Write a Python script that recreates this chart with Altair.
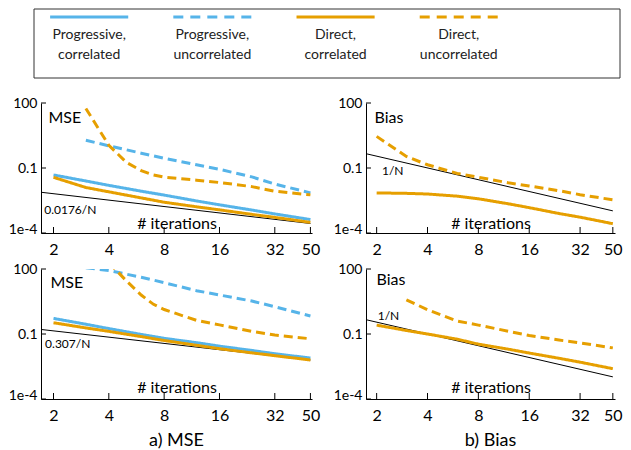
import altair as alt
import pandas as pd

FONT = "Lato"
BLUE = "#56B4E9"
ORANGE = "#E69F00"

series_names = ["Progressive, correlated", "Progressive, uncorrelated",
                "Direct, correlated", "Direct, uncorrelated"]
legend_labels = ["Progressive,\ncorrelated", "Progressive,\nuncorrelated",
                 "Direct,\ncorrelated", "Direct,\nuncorrelated"]
legend_dashed = [0, 1, 0, 1]

x_ticks = [2, 4, 8, 16, 32, 50]
y_ticks = [1e-4, 0.1, 100]

N_full = [2, 3, 4, 6, 8, 12, 16, 24, 32, 50]
N_from3 = [3, 4, 6, 8, 12, 16, 24, 32, 50]
N_du1 = [3, 4, 5, 6, 7, 8, 12, 16, 24, 32, 50]
N_du2 = [4, 5, 6, 7, 8, 12, 16, 24, 32, 50]

# a) MSE, top row
mse1_prog_corr = [0.0479, 0.0251, 0.0158, 0.00851, 0.00562, 0.00302, 0.00200, 0.00115, 0.000759, 0.000417]
mse1_prog_uncorr = [1.91, 1.05, 0.484, 0.282, 0.14, 0.0871, 0.0389, 0.0182, 0.00708]
mse1_direct_corr = [0.0372, 0.0126, 0.00794, 0.00417, 0.00263, 0.00162, 0.00117, 0.000724, 0.000525, 0.000309]
mse1_direct_uncorr = [56.2, 1.12, 0.178, 0.0759, 0.0479, 0.0380, 0.0275, 0.0214, 0.0138, 0.00851, 0.00575]
mse1_ref_N = [1.71, 50]
mse1_ref = [0.00759, 0.000275]

# b) Bias, top row
bias1_direct_corr = [0.00708, 0.00676, 0.00631, 0.00501, 0.00380, 0.00224, 0.00148, 0.000794, 0.000537, 0.000269]
bias1_direct_uncorr = [2.88, 0.339, 0.141, 0.0562, 0.0372, 0.0209, 0.0148, 0.00891, 0.00589, 0.00339]
bias_ref_N = [1.73, 50]
bias_ref = [0.457, 0.00105]

# a) MSE, bottom row
mse2_prog_corr = [0.525, 0.282, 0.178, 0.0955, 0.0631, 0.0398, 0.0275, 0.0174, 0.0123, 0.00776]
mse2_prog_uncorr = [115, 85.1, 41.7, 23.4, 10.0, 6.31, 3.31, 1.82, 0.676]
mse2_direct_corr = [0.331, 0.191, 0.132, 0.0759, 0.0501, 0.0302, 0.0209, 0.0135, 0.0100, 0.00631]
mse2_direct_uncorr = [200, 27.5, 6.31, 2.34, 1.35, 0.427, 0.263, 0.132, 0.0891, 0.0603]
mse2_ref_N = [1.71, 50]
mse2_ref = [0.162, 0.00631]

# b) Bias, bottom row
bias2_direct_corr = [0.257, 0.145, 0.100, 0.0575, 0.0339, 0.0200, 0.0132, 0.00759, 0.00501, 0.00251]
bias2_direct_uncorr = [3.80, 1.32, 0.398, 0.257, 0.135, 0.0851, 0.0525, 0.0389, 0.0229]

# reference-line labels: (text, N, value)
mse1_label = ("0.0176/N", 1.78, 0.00115)
mse2_label = ("0.307/N", 1.80, 0.0347)
bias1_label = ("1/N", 2.15, 0.0708)
bias2_label = ("1/N", 2.03, 0.66)

H = 130
color_scale = alt.Scale(domain=series_names, range=[BLUE, BLUE, ORANGE, ORANGE])
dash_scale = alt.Scale(domain=series_names, range=[[1, 0], [9, 5], [1, 0], [9, 5]])


def make_layers(lines, ref_N, ref_vals, label, xdom, ytitle, ytx, yty, xty):
    rows = []
    for name, ns, vals in lines:
        for n, v in zip(ns, vals):
            rows.append({"N": n, "value": v, "series": name})
    df = pd.DataFrame(rows)
    ref_df = pd.DataFrame({"N": ref_N, "value": ref_vals})
    lab_df = pd.DataFrame({"N": [label[1]], "value": [label[2]], "label": [label[0]]})
    xt_df = pd.DataFrame({"N": x_ticks})
    yt_df = pd.DataFrame({"value": y_ticks})

    xs = alt.Scale(type="log", domain=xdom, nice=False, zero=False)
    ys = alt.Scale(type="log", domain=[1e-4, 100], nice=False, zero=False)

    x_axis = alt.Axis(values=x_ticks, format="d", ticks=False, grid=False,
                      labelFontSize=16, labelPadding=8, labelFlush=False, labelOverlap=False,
                      title="# iterations", titleY=xty, titleBaseline="alphabetic",
                      titleFontSize=16, titleFontWeight="normal")
    y_axis = alt.Axis(values=y_ticks, ticks=False, grid=False,
                      labelExpr="datum.value < 0.001 ? '1e-4' : (datum.value < 1 ? '0.1' : '100')",
                      labelFontSize=14, labelPadding=4, labelOverlap=False, labelFlush=False,
                      labelBaseline={"condition": {"test": "datum.value < 0.001", "value": "alphabetic"},
                                     "value": "middle"},
                      title=ytitle, titleAngle=0, titleX=ytx, titleY=yty, titleAlign="left",
                      titleBaseline="middle", titleFontSize=16, titleFontWeight="normal")
    y_enc = alt.Y("value:Q", scale=ys, axis=y_axis)

    ref = alt.Chart(ref_df).mark_line(color="black", strokeWidth=1, clip=True).encode(
        x=alt.X("N:Q", scale=xs, axis=x_axis), y=y_enc)
    lines_c = alt.Chart(df).mark_line(strokeWidth=3, clip=True).encode(
        x=alt.X("N:Q", scale=xs, axis=None),
        y=y_enc,
        color=alt.Color("series:N", scale=color_scale, legend=None),
        strokeDash=alt.StrokeDash("series:N", scale=dash_scale, legend=None),
        detail="series:N",
    )
    lab = alt.Chart(lab_df).mark_text(align="left", baseline="middle", fontSize=12, font=FONT,
                                      color="black").encode(
        x=alt.X("N:Q", scale=xs, axis=None), y=y_enc, text="label:N")
    xt = alt.Chart(xt_df).mark_rule(color="black", strokeWidth=1).encode(
        x=alt.X("N:Q", scale=xs, axis=None), y=alt.value(H - 6), y2=alt.value(H))
    yt = alt.Chart(yt_df).mark_rule(color="black", strokeWidth=1).encode(
        y=y_enc, x=alt.value(0), x2=alt.value(5))
    return [ref, lines_c, lab, xt, yt]


def finish(layers, width, title=None):
    ch = alt.layer(*layers).properties(width=width, height=H).resolve_scale(x="independent")
    if title:
        ch = ch.properties(title=alt.TitleParams(title, orient="bottom", fontSize=18, font=FONT,
                                                 fontWeight="normal", offset=9, anchor="middle"))
    return ch


LW, RW = 271, 249
LDOM, RDOM = [1.71, 51], [1.73, 51.5]

# legend (drawn above the top-left panel, with its own x scale)
leg_df = pd.DataFrame({"series": series_names, "idx": [0, 1, 2, 3], "label": legend_labels,
                       "dashed": legend_dashed})
leg_xs = alt.Scale(domain=[-0.391, -0.391 + LW / 123.2], nice=False, zero=False)
LEG_TOP = -94
leg_solid = alt.Chart(leg_df).transform_filter("datum.dashed == 0").transform_calculate(
    lo="datum.idx - 0.317", hi="datum.idx + 0.317"
).mark_rule(strokeWidth=3).encode(
    x=alt.X("lo:Q", scale=leg_xs, axis=None), x2="hi:Q", y=alt.value(LEG_TOP + 8),
    color=alt.Color("series:N", scale=color_scale, legend=None))
leg_dash = alt.Chart(leg_df).transform_filter("datum.dashed == 1").transform_calculate(
    lo="datum.idx - 0.317", hi="datum.idx + 0.317"
).mark_rule(strokeWidth=3, strokeDash=[10, 7]).encode(
    x=alt.X("lo:Q", scale=leg_xs, axis=None), x2="hi:Q", y=alt.value(LEG_TOP + 8),
    color=alt.Color("series:N", scale=color_scale, legend=None))
leg_text = alt.Chart(leg_df).mark_text(lineBreak="\n", fontSize=14, lineHeight=20, baseline="top",
                                       align="center", font=FONT, color="#222").encode(
    x=alt.X("idx:Q", scale=leg_xs, axis=None), y=alt.value(LEG_TOP + 19), text="label:N")
box_df = pd.DataFrame({"k": [0]})
leg_box = alt.Chart(box_df).mark_rect(fill="white", fillOpacity=0, stroke="#333", strokeWidth=1).encode(
    x=alt.value(-7), x2=alt.value(579), y=alt.value(LEG_TOP), y2=alt.value(LEG_TOP + 69))

tl_layers = make_layers([("Progressive, uncorrelated", N_from3, mse1_prog_uncorr),
                         ("Direct, uncorrelated", N_du1, mse1_direct_uncorr),
                         ("Progressive, correlated", N_full, mse1_prog_corr),
                         ("Direct, correlated", N_full, mse1_direct_corr)],
                        mse1_ref_N, mse1_ref, mse1_label, LDOM, "MSE", 7, 14, -5)
tl = finish(tl_layers + [leg_box, leg_solid, leg_dash, leg_text], LW)

tr = finish(make_layers([("Direct, uncorrelated", N_full, bias1_direct_uncorr),
                         ("Direct, correlated", N_full, bias1_direct_corr)],
                        bias_ref_N, bias_ref, bias1_label, RDOM, "Bias", 8, 14, -5), RW)
bl = finish(make_layers([("Progressive, uncorrelated", N_from3, mse2_prog_uncorr),
                         ("Direct, uncorrelated", N_du2, mse2_direct_uncorr),
                         ("Progressive, correlated", N_full, mse2_prog_corr),
                         ("Direct, correlated", N_full, mse2_direct_corr)],
                        mse2_ref_N, mse2_ref, mse2_label, LDOM, "MSE", 9, 13, -7), LW, title="a) MSE")
br = finish(make_layers([("Direct, uncorrelated", N_from3, bias2_direct_uncorr),
                         ("Direct, correlated", N_full, bias2_direct_corr)],
                        bias_ref_N, bias_ref, bias2_label, RDOM, "Bias", 10, 10, -7), RW, title="b) Bias")

chart = alt.concat(tl, tr, bl, br, columns=2, spacing={"row": 36, "column": 54},
                   bounds="flush", align="each").properties(padding=0).configure_view(
    stroke=None
).configure_axis(
    labelFont=FONT, titleFont=FONT, domainColor="black", labelColor="black", titleColor="black",
    domainWidth=1
).configure_text(font=FONT)

chart.save("out.html", embed_options={"renderer": "svg", "actions": False})
